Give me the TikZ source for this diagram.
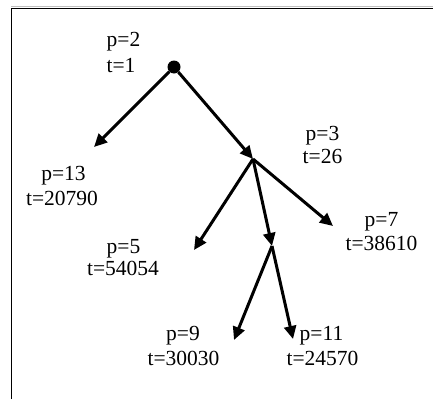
\documentclass[tikz,border=0pt]{standalone}
\usepackage{fontspec}
\setmainfont{Liberation Serif}
\usetikzlibrary{arrows.meta}
\begin{document}
\begin{tikzpicture}[x=1pt,y=-1pt,
  arr/.style={line width=3pt,-{Triangle[length=13pt,width=12pt]}},
  lbl/.style={anchor=base,inner sep=0pt,font=\fontsize{21.5}{24}\selectfont},
  frame/.style={line width=1.6pt,black}]
\useasboundingbox (0,0) rectangle (433,399);
% frame
\draw[gray!50,line width=1pt] (11,6.3) -- (433,6.3);
\draw[frame] (11.5,399) -- (11.5,8.5) -- (433,8.5);
% tree points
\node[circle,fill=black,minimum size=13pt,inner sep=0pt] (root) at (174,67) {};
\coordinate (b3) at (253,159);
\coordinate (b11) at (272,246);
\coordinate (e13) at (94,147);
\coordinate (e5) at (194,250);
\coordinate (e7) at (333,226);
\coordinate (e9) at (234,340);
\coordinate (e11) at (293,339);
% arrows
\draw[arr] (root) -- (e13);
\draw[arr] (root) -- (b3);
\draw[arr] (b3) -- (e5);
\draw[arr] (b3) -- (b11);
\draw[arr] (b3) -- (e7);
\draw[arr] (b11) -- (e9);
\draw[arr] (b11) -- (e11);
% labels
\node[lbl] (p2) at (123.5,46) {p=2};
\node[lbl] (t2) at (121,72) {t=1};
\node[lbl] (p3) at (322.5,140) {p=3};
\node[lbl] (t3) at (322.5,163) {t=26};
\node[lbl] (p13) at (63.5,180) {p=13};
\node[lbl] (t13) at (62,205) {t=20790};
\node[lbl] (p7) at (381.5,226) {p=7};
\node[lbl] (t7) at (381.5,250) {t=38610};
\node[lbl] (p5) at (123.5,253) {p=5};
\node[lbl] (t5) at (123,275) {t=54054};
\node[lbl] (p9) at (183,340) {p=9};
\node[lbl] (t9) at (183.5,365) {t=30030};
\node[lbl] (p11) at (321.5,340) {p=11};
\node[lbl] (t11) at (322.5,365) {t=24570};
\end{tikzpicture}
\end{document}
